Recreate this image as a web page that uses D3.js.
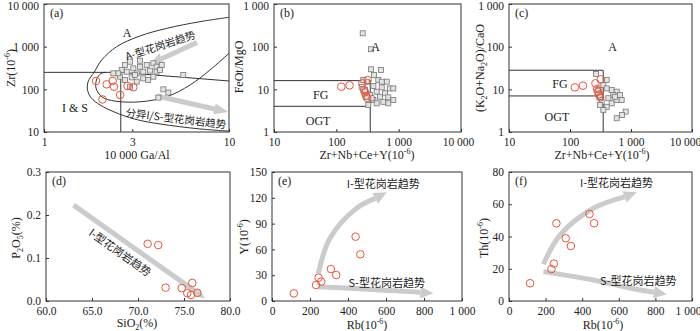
<!DOCTYPE html>
<html lang="zh">
<head>
<meta charset="utf-8">
<title>Granite discrimination diagrams</title>
<script src="https://cdn.jsdelivr.net/npm/d3@7/dist/d3.min.js"></script>
<style>
body { margin: 0; background: #fff; }
text { font-family: "Liberation Serif", "DejaVu Serif", serif; fill: #222; }
.cn { font-family: "Noto Sans CJK SC", sans-serif; }
</style>
</head>
<body>
<script>
// ---------- data ----------
// (a) 10000Ga/Al vs Zr, reference A-type granites (squares)
var aSqGaAl = [2.74, 2.92, 3.30, 3.59, 3.90, 4.06, 2.63, 2.80, 3.04, 3.17, 3.44, 3.74, 4.06, 4.24, 2.58, 2.74,
               2.98, 3.17, 3.44, 3.66, 2.92, 3.10, 2.52, 3.90, 3.30, 4.33, 2.37, 5.66, 4.42, 4.70, 4.15];
var aSqZr   = [372, 444, 469, 372, 408, 339, 284, 259, 311, 237, 259, 274, 259, 284, 198, 165,
               191, 151, 181, 165, 115, 217, 237, 198, 339, 372, 237, 217, 100, 84, 64];
// (a) this study (circles)
var aGaAl = [1.91, 2.18, 2.35, 2.39, 2.83, 3.04, 2.07, 2.58];
var aZr   = [157, 131, 157, 115, 120, 112, 58, 74];

// (b)/(c) Zr+Nb+Ce+Y, this study
var zncy   = [120, 163, 261, 318, 278, 300, 312, 288];
var bFeMg  = [11.5, 12.4, 13.8, 16.5, 9.6, 7.0, 6.3, 8.5];
var cAlkCa = [11.1, 12.2, 13.8, 17.1, 10.2, 7.6, 6.5, 8.8];
// (b) reference squares
var bSqX = [265, 360, 360, 521, 402, 307, 472, 643, 393, 535, 726, 288, 444, 604, 347, 501, 682, 820,
            393, 568, 444, 682, 307, 255, 271, 369, 820, 326, 535];
var bSqY = [206, 87, 29.5, 28.4, 21.7, 15.1, 16.5, 15.1, 12, 11.1, 10.5, 9.6, 8.8, 8.1, 7.4, 6.7, 6.5, 5.6,
            5.6, 5.1, 4.7, 4.7, 6.7, 11.5, 16.5, 6.2, 10.5, 4.3, 15.1];
// (c) reference squares
var cSqX = [267, 399, 352, 482, 583, 661, 513, 425, 330, 482, 399, 352, 583, 703, 818, 711, 583, 310,
            291, 399, 547, 310];
var cSqY = [22.9, 16.5, 12.6, 9.6, 8.8, 7.4, 7.4, 6.2, 5.1, 4.7, 3.9, 3.3, 5.6, 5.6, 3.0, 2.5, 2.1, 6.7,
            9.6, 10.5, 6.7, 4.3];

// (d) SiO2 vs P2O5
var sio2 = [71.05, 72.2, 73.0, 74.75, 75.36, 75.76, 75.9, 76.45];
var p2o5 = [0.133, 0.130, 0.031, 0.030, 0.018, 0.014, 0.042, 0.019];

// (e)/(f) Rb vs Y, Th
var rb = [115, 232, 245, 259, 310, 338, 440, 465];
var yv = [8.9, 18.6, 27.1, 22.5, 37.2, 30.2, 74.8, 54.3];
var th = [11, 19.8, 23.2, 48.2, 38.9, 34.1, 54, 48.2];

// field boundaries in (a)
var aOuter = [[10, 4875], [6.97, 3855], [4.61, 2690], [3.30, 1780], [2.47, 1000], [2.05, 486], [1.87, 255],
              [1.73, 149], [1.72, 96], [1.80, 63], [2.01, 43], [2.42, 29], [3.10, 20], [4.24, 15.4],
              [6.97, 11.8], [10, 10.5]];
var aInner = [[10, 698], [7.89, 284], [6.15, 126], [4.61, 67], [3.30, 51], [2.42, 53], [2.06, 66],
              [1.91, 107], [1.93, 175], [2.03, 235], [2.16, 250]];
var aLines = [[[1, 250], [2.6, 250]], [[2.6, 10], [2.6, 250]], [[2.6, 250], [10, 157]]];

// trend arrows
var aTrendA  = [[6.71, 1253], [3.74, 390]];
var aTrendIS = [[4.08, 69.8], [9.9, 29.4]];
var dTrend   = [[63, 0.223], [77.3, 0.006]];
var eTrendI  = [[244, 32], [305, 73], [446, 108], [604, 126.4]];
var eTrendS  = [[244, 16.7], [481, 14], [726, 10.9], [849, 8.9]];
var fTrendI  = [[188, 22.8], [279, 40.9], [461, 57.5], [698, 67.4]];
var fTrendS  = [[188, 18.2], [461, 13], [716, 6.8], [862, 4.2]];

// ticks
var logTicks3 = [10, 100, 1000, 10000];
var logTicks1 = [1, 10, 100, 1000];

var red = "#e8553f", gray = "#cbcbcb";

var svg = d3.select("body").append("svg").attr("width", 700).attr("height", 331);

function fmt(d) { return d >= 1000 ? d3.format(",")(d).replace(/,/g, " ") : String(d); }

// text with sub/superscripts: parts = [[text, "sup"|"sub"|undefined], ...]
function rich(t, parts) {
    var off = 0;
    parts.forEach(function(p) {
        var ts = t.append("tspan").text(p[0]);
        var want = p[1] == "sup" ? -5 : p[1] == "sub" ? 3 : 0;
        ts.attr("dy", want - off);
        if (p[1]) ts.attr("font-size", "8px");
        off = want;
    });
    return t;
}

function panel(o) {
    var g = svg.append("g");
    var x = (o.xlog ? d3.scaleLog() : d3.scaleLinear()).domain(o.xd).range([o.x0, o.x1]);
    var y = (o.ylog ? d3.scaleLog() : d3.scaleLinear()).domain(o.yd).range([o.y0, o.y1]);

    var ax = g.append("g").attr("transform", "translate(0," + o.y0 + ")")
        .call(d3.axisBottom(x).tickValues(o.xt).tickSize(-3).tickPadding(5.5).tickFormat(o.xf || fmt));
    var ay = g.append("g").attr("transform", "translate(" + o.x0 + ",0)")
        .call(d3.axisLeft(y).tickValues(o.yt).tickSize(-3).tickPadding(5).tickFormat(o.yf || fmt));
    [ax, ay].forEach(function(a) {
        a.attr("font-family", null).attr("font-size", 11.5).attr("color", "#333");
        a.select(".domain").remove();
    });
    // keep the end labels inside the picture
    if (o.lastDx) ax.selectAll(".tick:last-of-type text").attr("dx", o.lastDx);
    if (o.top) ay.selectAll(".tick:last-of-type text").attr("dy", "0.5em");

    g.append("rect").attr("x", o.x0).attr("y", o.y1)
        .attr("width", o.x1 - o.x0).attr("height", o.y0 - o.y1)
        .attr("fill", "none").attr("stroke", "#333").attr("stroke-width", 1);

    g.append("text").attr("x", o.x0 + 6).attr("y", o.y1 + 13).attr("font-size", 12).text(o.tag);

    rich(g.append("text").attr("x", o.xtx).attr("y", o.xty).attr("text-anchor", "middle").attr("font-size", 12), o.xl);
    rich(g.append("text").attr("transform", "translate(" + o.ytx + "," + o.yty + ") rotate(-90)")
        .attr("text-anchor", "middle").attr("font-size", 12), o.yl);
    return { g: g, x: x, y: y };
}

function squares(p, xs, ys) {
    p.g.append("g").selectAll("rect").data(xs).enter().append("rect")
        .attr("x", function(d) { return p.x(d) - 2.5; })
        .attr("y", function(d, i) { return p.y(ys[i]) - 2.5; })
        .attr("width", 5).attr("height", 5)
        .attr("fill", "#e3e3e3").attr("stroke", "#777").attr("stroke-width", 0.8);
}

function circles(p, xs, ys) {
    p.g.append("g").selectAll("circle").data(xs).enter().append("circle")
        .attr("cx", function(d) { return p.x(d); })
        .attr("cy", function(d, i) { return p.y(ys[i]); })
        .attr("r", 3.8).attr("fill", "none").attr("stroke", red).attr("stroke-width", 1);
}

function curve(p, pts, c) {
    p.g.append("path")
        .attr("d", d3.line().curve(c || d3.curveLinear)
            .x(function(d) { return p.x(d[0]); }).y(function(d) { return p.y(d[1]); })(pts))
        .attr("fill", "none").attr("stroke", "#333").attr("stroke-width", 1);
}

function arrow(p, pts, w, hl, hw) {
    var q = pts.map(function(d) { return [p.x(d[0]), p.y(d[1])]; });
    var n = q.length, tip = q[n - 1], prev = q[n - 2];
    var dx = tip[0] - prev[0], dy = tip[1] - prev[1], L = Math.hypot(dx, dy);
    var ux = dx / L, uy = dy / L;
    var base = [tip[0] - ux * hl, tip[1] - uy * hl];
    var line = q.slice(0, n - 1).concat([base]);
    p.g.append("path").attr("d", d3.line().curve(d3.curveCatmullRom)(line))
        .attr("fill", "none").attr("stroke", gray).attr("stroke-width", w);
    p.g.append("path")
        .attr("d", "M" + tip + "L" + [base[0] - uy * hw / 2, base[1] + ux * hw / 2] +
                   "L" + [base[0] + uy * hw / 2, base[1] - ux * hw / 2] + "Z")
        .attr("fill", gray);
}

function label(p, x, y, s, o) {
    o = o || {};
    var t = p.g.append("text")
        .attr("transform", "translate(" + p.x(x) + "," + p.y(y) + ")" + (o.rot ? " rotate(" + o.rot + ")" : ""))
        .attr("text-anchor", o.anchor || "middle").attr("dominant-baseline", "central")
        .attr("font-size", o.size || 12).text(s);
    if (o.cn) t.attr("class", "cn");
    return t;
}

// ---------- (a) ----------
var pa = panel({ x0: 44, x1: 229, y0: 132, y1: 4, xlog: true, ylog: true, xd: [1, 10], yd: [10, 10000],
    xt: [1, 3, 10], yt: logTicks3, tag: "(a)", top: true,
    xl: [["10 000 Ga/Al"]], xtx: 137, xty: 159,
    yl: [["Zr(10"], ["-6", "sup"], [")"]], ytx: 15, yty: 68 });
aLines.forEach(function(l) { curve(pa, l); });
curve(pa, aOuter, d3.curveCatmullRom);
curve(pa, aInner, d3.curveCatmullRom);
arrow(pa, aTrendA, 5, 13, 12);
arrow(pa, aTrendIS, 5, 14, 11);
squares(pa, aSqGaAl, aSqZr);
circles(pa, aGaAl, aZr);
label(pa, 2.81, 2090, "A");
label(pa, 1.47, 36.5, "I & S");
label(pa, 4.24, 1094, "A-型花岗岩趋势", { rot: -18, cn: true, size: 10.5 });
label(pa, 5.17, 21.3, "分异I/S-型花岗岩趋势", { rot: 7, cn: true, size: 10.5 });

// ---------- (b) ----------
var pb = panel({ x0: 274, x1: 461, y0: 132, y1: 4, xlog: true, ylog: true, xd: [10, 10000], yd: [1, 1000],
    xt: logTicks3, yt: logTicks1, tag: "(b)", top: true, lastDx: -3,
    xl: [["Zr+Nb+Ce+Y(10"], ["-6", "sup"], [")"]], xtx: 367, xty: 159,
    yl: [["FeOt/MgO"]], ytx: 243, yty: 67 });
curve(pb, [[10, 16], [350, 16]]);
curve(pb, [[10, 4], [350, 4]]);
curve(pb, [[350, 1], [350, 16]]);
squares(pb, bSqX, bSqY);
circles(pb, zncy, bFeMg);
label(pb, 428, 100, "A");
label(pb, 56, 7.4, "FG");
label(pb, 51, 1.84, "OGT");

// ---------- (c) ----------
var pc = panel({ x0: 509, x1: 692, y0: 132, y1: 4, xlog: true, ylog: true, xd: [10, 10000], yd: [1, 1000],
    xt: logTicks3, yt: logTicks1, tag: "(c)", top: true, lastDx: -7,
    xl: [["Zr+Nb+Ce+Y(10"], ["-6", "sup"], [")"]], xtx: 602, xty: 159,
    yl: [["(K"], ["2", "sub"], ["O+Na"], ["2", "sub"], ["O)/CaO"]], ytx: 484, yty: 68 });
curve(pc, [[10, 28], [350, 28]]);
curve(pc, [[10, 7], [350, 7]]);
curve(pc, [[350, 1], [350, 28]]);
squares(pc, cSqX, cSqY);
circles(pc, zncy, cAlkCa);
label(pc, 500, 100, "A");
label(pc, 68.5, 13.1, "FG");
label(pc, 61, 2.29, "OGT");

// ---------- (d) ----------
var pd = panel({ x0: 46, x1: 230, y0: 301, y1: 172, xd: [60, 80], yd: [0, 0.3],
    xt: [60, 65, 70, 75, 80], yt: [0, 0.1, 0.2, 0.3], xf: d3.format(".1f"), yf: d3.format(".1f"), tag: "(d)",
    xl: [["SiO"], ["2", "sub"], ["(%)"]], xtx: 137, xty: 327,
    yl: [["P"], ["2", "sub"], ["O"], ["5", "sub"], ["(%)"]], ytx: 20, yty: 238 });
arrow(pd, dTrend, 5, 10, 8);
circles(pd, sio2, p2o5);
label(pd, 68.1, 0.115, "I-型花岗岩趋势", { rot: 35.5, cn: true, size: 11 });

// ---------- (e) ----------
var pe = panel({ x0: 272, x1: 462, y0: 301, y1: 172, xd: [0, 1000], yd: [0, 150],
    xt: [0, 200, 400, 600, 800, 1000], yt: [0, 30, 60, 90, 120, 150], tag: "(e)",
    xl: [["Rb(10"], ["-6", "sup"], [")"]], xtx: 367, xty: 329,
    yl: [["Y(10"], ["-6", "sup"], [")"]], ytx: 248, yty: 237 });
arrow(pe, eTrendI, 5, 13, 12);
arrow(pe, eTrendS, 5, 13, 12);
circles(pe, rb, yv);
label(pe, 393, 137, "I-型花岗岩趋势", { anchor: "start", cn: true, size: 11 });
label(pe, 402, 22.4, "S-型花岗岩趋势", { anchor: "start", cn: true, size: 11 });

// ---------- (f) ----------
var pf = panel({ x0: 509, x1: 692, y0: 301, y1: 172, xd: [0, 1000], yd: [0, 80],
    xt: [0, 200, 400, 600, 800, 1000], yt: [0, 20, 40, 60, 80], tag: "(f)", lastDx: -4,
    xl: [["Rb(10"], ["-6", "sup"], [")"]], xtx: 603, xty: 329,
    yl: [["Th(10"], ["-6", "sup"], [")"]], ytx: 488, yty: 238 });
arrow(pf, fTrendI, 5, 13, 12);
arrow(pf, fTrendS, 5, 13, 12);
circles(pf, rb, th);
label(pf, 388, 74, "I-型花岗岩趋势", { anchor: "start", cn: true, size: 11 });
label(pf, 497, 13, "S-型花岗岩趋势", { anchor: "start", cn: true, size: 11 });
</script>
</body>
</html>
